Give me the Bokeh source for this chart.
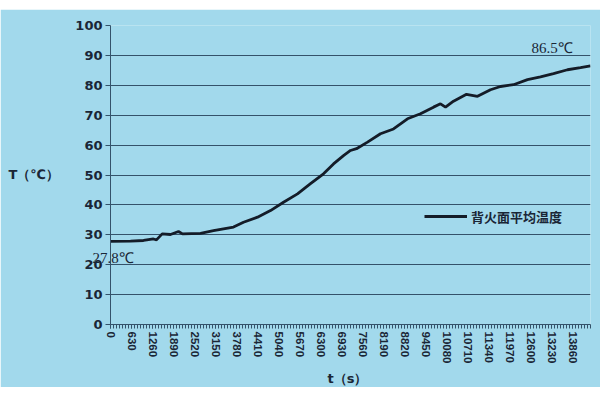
from bokeh.plotting import figure
from bokeh.models import FixedTicker, Label, Legend, LegendItem, Range1d, Spacer
from bokeh.layouts import column
from bokeh.embed import file_html
from bokeh.resources import INLINE

# data
times = [0, 600, 990, 1290, 1380, 1550, 1800, 2040, 2160, 2700, 3090, 3390, 3690,
         3990, 4410, 4800, 5190, 5610, 6000, 6390, 6690, 6990, 7200, 7380, 7710,
         8100, 8490, 8910, 9300, 9690, 9900, 10050, 10290, 10680, 11010, 11400,
         11700, 12090, 12510, 12900, 13290, 13710, 14100, 14400]
temps = [27.8, 27.9, 28.1, 28.6, 28.3, 30.3, 30.1, 31.1, 30.3, 30.5, 31.4, 32.0, 32.6,
         34.2, 35.9, 38.1, 40.9, 43.7, 47.1, 50.4, 53.7, 56.5, 58.2, 58.8, 61.0,
         63.8, 65.4, 68.8, 70.5, 72.7, 73.8, 72.7, 74.7, 77.0, 76.3, 78.5,
         79.6, 80.2, 81.9, 82.8, 83.9, 85.2, 85.9, 86.5]
x_ticks = list(range(0, 13861, 630))
x_minor = list(range(0, 14401, 90))
y_ticks = list(range(0, 101, 10))
series_name = "背火面平均温度"
start_label = "27.8℃"
end_label = "86.5℃"

BG = "#a2d9ec"
INK = "#1a2636"
GRID = "#34526a"

p = figure(width=600, height=378, output_backend="svg", toolbar_location=None,
           x_range=Range1d(0, 14400), y_range=Range1d(0, 100),
           min_border_left=110, min_border_right=10, min_border_top=16, min_border_bottom=63)
p.background_fill_color = BG
p.border_fill_color = BG
p.outline_line_color = None

p.xgrid.grid_line_color = None
p.ygrid.grid_line_color = GRID
p.ygrid.grid_line_width = 1
p.ygrid.ticker = FixedTicker(ticks=y_ticks)

# y axis
p.yaxis.ticker = FixedTicker(ticks=y_ticks)
p.yaxis.axis_line_color = GRID
p.yaxis.major_tick_line_color = GRID
p.yaxis.major_tick_out = 5
p.yaxis.major_tick_in = 0
p.yaxis.minor_tick_line_color = None
p.yaxis.major_label_text_font = "DejaVu Sans"
p.yaxis.major_label_text_font_style = "bold"
p.yaxis.major_label_text_font_size = "13px"
p.yaxis.major_label_text_color = INK
p.yaxis.major_label_standoff = 3

# x axis
p.xaxis.ticker = FixedTicker(ticks=x_ticks, minor_ticks=x_minor)
p.xaxis.axis_line_color = GRID
p.xaxis.major_tick_line_color = GRID
p.xaxis.minor_tick_line_color = GRID
p.xaxis.major_tick_out = 4
p.xaxis.major_tick_in = 0
p.xaxis.minor_tick_out = 4
p.xaxis.minor_tick_in = 0
p.xaxis.major_label_orientation = "vertical"
p.xaxis.major_label_text_font = "Liberation Sans"
p.xaxis.major_label_text_font_style = "bold"
p.xaxis.major_label_text_font_size = "11.5px"
p.xaxis.major_label_text_color = INK
p.xaxis.major_label_standoff = 3

r = p.line(times, temps, line_color="#141c28", line_width=2.8)

legend = Legend(items=[LegendItem(label=series_name, renderers=[r])],
                location=(314, 98), glyph_width=43, glyph_height=20,
                label_standoff=4, padding=0, margin=0,
                border_line_color=None, background_fill_alpha=0,
                label_text_font="Noto Sans CJK SC", label_text_font_style="bold",
                label_text_font_size="13px", label_text_color=INK)
p.add_layout(legend)

# labels placed in side panels so that they are not clipped to the frame
p.add_layout(Label(x=-3060, y=50.2, text="T（℃）",
                   text_font="DejaVu Sans", text_font_style="bold", text_font_size="13px",
                   text_color=INK, text_baseline="middle"), "above")
p.add_layout(Label(x=-540, y=22.4, text=start_label,
                   text_font="Liberation Serif", text_font_size="15px", text_color=INK,
                   text_baseline="middle"), "left")
p.add_layout(Label(x=6510, y=-18.0, text="t（s）",
                   text_font="DejaVu Sans", text_font_style="bold", text_font_size="13px",
                   text_color=INK, text_baseline="middle"), "below")
p.add_layout(Label(x=12630, y=92.6, text=end_label, text_font="Liberation Serif",
                   text_font_size="15px", text_color=INK, text_baseline="middle"))

layout = column(Spacer(width=600, height=9), p, spacing=0)
open("out.html", "w").write(file_html(layout, INLINE))
